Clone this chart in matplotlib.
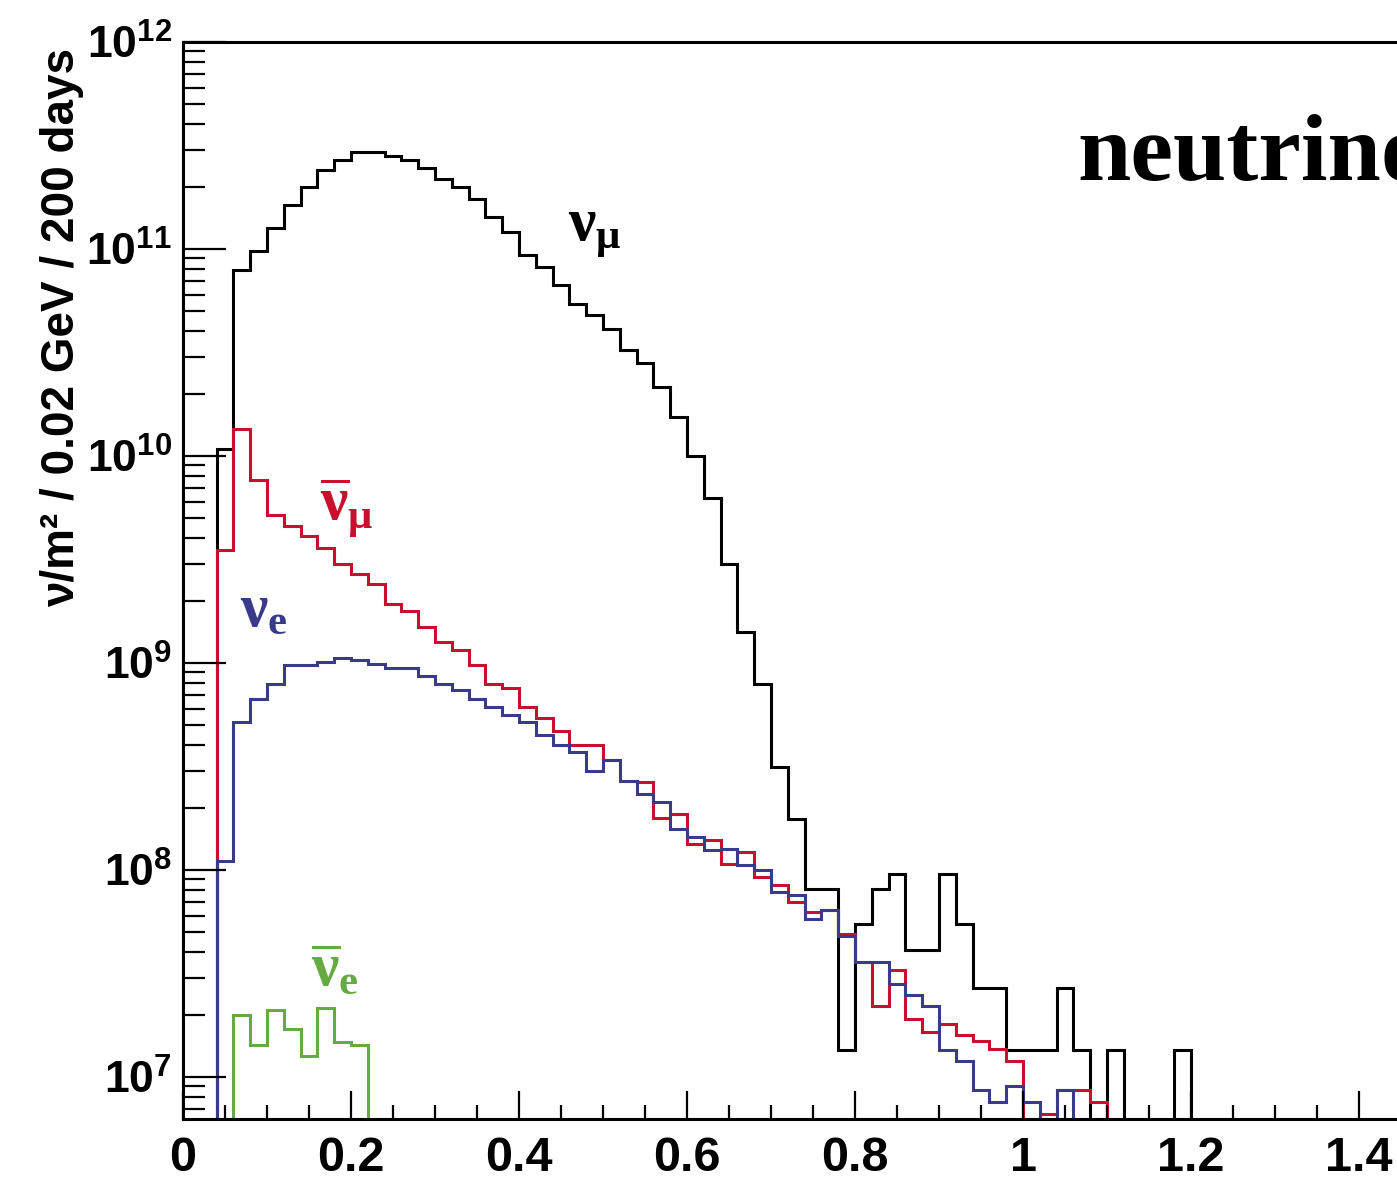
import numpy as np
import matplotlib
matplotlib.use("Agg")
import matplotlib.pyplot as plt
from matplotlib.ticker import MultipleLocator, LogLocator, FuncFormatter, NullFormatter

plt.rcParams['mathtext.fontset'] = 'custom'
plt.rcParams['mathtext.rm'] = 'Liberation Serif:bold'
plt.rcParams['mathtext.bf'] = 'Liberation Sans:bold'
plt.rcParams['mathtext.sf'] = 'Liberation Sans'
plt.rcParams['mathtext.it'] = 'Liberation Serif:bold:italic'

# bin width 0.02 GeV, first bin starts at 0
bin_width = 0.02
x_max = 1.5

numu = [0, 0, 1.08e10, 7.9e10, 9.8e10, 1.26e11, 1.63e11, 2.0e11, 2.4e11, 2.7e11,
        2.94e11, 2.94e11, 2.8e11, 2.7e11, 2.45e11, 2.18e11, 2.0e11, 1.75e11, 1.43e11, 1.21e11,
        9.4e10, 8.2e10, 6.7e10, 5.4e10, 4.8e10, 4.1e10, 3.25e10, 2.8e10, 2.15e10, 1.54e10,
        1.0e10, 6.3e9, 3.0e9, 1.41e9, 7.9e8, 3.15e8, 1.76e8, 8.1e7, 8.1e7, 1.35e7,
        5.5e7, 8.1e7, 9.6e7, 4.1e7, 4.1e7, 9.6e7, 5.5e7, 2.7e7, 2.7e7, 1.35e7,
        1.35e7, 1.35e7, 2.7e7, 1.35e7, 0, 1.35e7, 0, 0, 0, 1.35e7]

numubar = [0, 0, 3.5e9, 1.35e10, 7.7e9, 5.2e9, 4.6e9, 4.1e9, 3.6e9, 3.0e9,
           2.7e9, 2.4e9, 1.93e9, 1.78e9, 1.49e9, 1.26e9, 1.16e9, 9.8e8, 7.9e8, 7.6e8,
           6.1e8, 5.4e8, 4.7e8, 4.0e8, 4.0e8, 3.4e8, 2.7e8, 2.66e8, 1.78e8, 1.87e8,
           1.34e8, 1.40e8, 1.07e8, 1.22e8, 9.3e7, 8.5e7, 7.0e7, 6.3e7, 6.4e7, 4.9e7,
           3.6e7, 2.2e7, 3.3e7, 1.9e7, 1.65e7, 1.8e7, 1.6e7, 1.5e7, 1.36e7, 1.2e7,
           0, 6.6e6, 8.7e6, 8.7e6, 7.6e6]

nue = [0, 0, 1.1e8, 5.2e8, 6.7e8, 7.9e8, 9.8e8, 9.8e8, 1.01e9, 1.06e9,
       1.03e9, 9.9e8, 9.5e8, 9.5e8, 8.7e8, 7.9e8, 7.4e8, 6.7e8, 6.1e8, 5.6e8,
       5.2e8, 4.5e8, 4.0e8, 3.7e8, 3.0e8, 3.4e8, 2.7e8, 2.33e8, 2.13e8, 1.58e8,
       1.44e8, 1.25e8, 1.26e8, 1.06e8, 1.0e8, 7.8e7, 7.6e7, 5.8e7, 6.4e7, 4.8e7,
       3.6e7, 3.6e7, 2.8e7, 2.5e7, 2.2e7, 1.35e7, 1.2e7, 8.7e6, 7.6e6, 9.1e6,
       7.6e6, 0, 8.7e6]

nuebar = [0, 0, 0, 2.0e7, 1.43e7, 2.1e7, 1.7e7, 1.26e7, 2.15e7, 1.48e7, 1.43e7]

# (values, colour, label, label x in GeV, label baseline as log10 of flux)
series = [
    (numu, "black", r"$\mathrm{\nu}_{\mathrm{\mu}}$", 0.458, 11.04),
    (numubar, "#c8102e", r"$\overline{\mathrm{\nu}}_{\mathrm{\mu}}$", 0.163, 9.69),
    (nue, "#3a3a8a", r"$\mathrm{\nu}_{\mathrm{e}}$", 0.068, 9.18),
    (nuebar, "#66aa44", r"$\overline{\mathrm{\nu}}_{\mathrm{e}}$", 0.152, 7.44),
]

n_bins = int(round(x_max / bin_width))
edges = np.arange(n_bins + 1) * bin_width

fig = plt.figure(figsize=(13.97, 11.80), dpi=100)
ax = fig.add_axes([0.131, 0.0517, 1.5 * 840 / 1397, 0.9127])
ax.set_yscale("log")
ax.set_xlim(0, x_max)
ax.set_ylim(6.27e6, 1e12)

for vals, col, lab, lx, ly in series:
    v = np.zeros(n_bins)
    v[:len(vals)] = vals
    v[v <= 0] = 1.0  # empty bins drop below the frame
    ax.stairs(v, edges, baseline=None, color=col, lw=2.2)
    ax.text(lx, 10 ** ly, lab, color=col, fontsize=44, ha="left", va="baseline")

ax.spines["right"].set_visible(False)
for s in ["left", "bottom", "top"]:
    ax.spines[s].set_linewidth(2.2)

ax.xaxis.set_major_locator(MultipleLocator(0.2))
ax.xaxis.set_minor_locator(MultipleLocator(0.05))
ax.xaxis.set_major_formatter(FuncFormatter(lambda v, p: "%g" % round(v, 2)))
ax.yaxis.set_major_locator(LogLocator(base=10, numticks=20))
ax.yaxis.set_minor_locator(LogLocator(base=10, subs=np.arange(2, 10), numticks=20))
ax.yaxis.set_minor_formatter(NullFormatter())
ax.yaxis.set_major_formatter(FuncFormatter(lambda v, p: r"$\mathbf{10^{%d}}$" % round(np.log10(v))))

ax.tick_params(axis="x", which="major", direction="in", length=20, width=1.6, pad=12,
               labelsize=35, top=False)
ax.tick_params(axis="x", which="minor", direction="in", length=10, width=1.6, top=False)
ax.tick_params(axis="y", which="major", direction="in", length=31, width=1.6, pad=8,
               labelsize=32, right=False)
ax.tick_params(axis="y", which="minor", direction="in", length=16, width=1.6, right=False)
for t in ax.get_xticklabels():
    t.set_fontfamily("Liberation Sans")
    t.set_fontweight("bold")

fig.text(62 / 1397, 1 - 48 / 1180, "ν/m² / 0.02 GeV / 200 days", rotation=90,
         ha="center", va="top", fontsize=33, family="Liberation Sans", weight="bold")
fig.text(1077 / 1397, 1 - 180 / 1180, "neutrinos", fontsize=69, family="Liberation Serif",
         weight="bold", ha="left", va="baseline")

fig.savefig("out.png", dpi=100)
